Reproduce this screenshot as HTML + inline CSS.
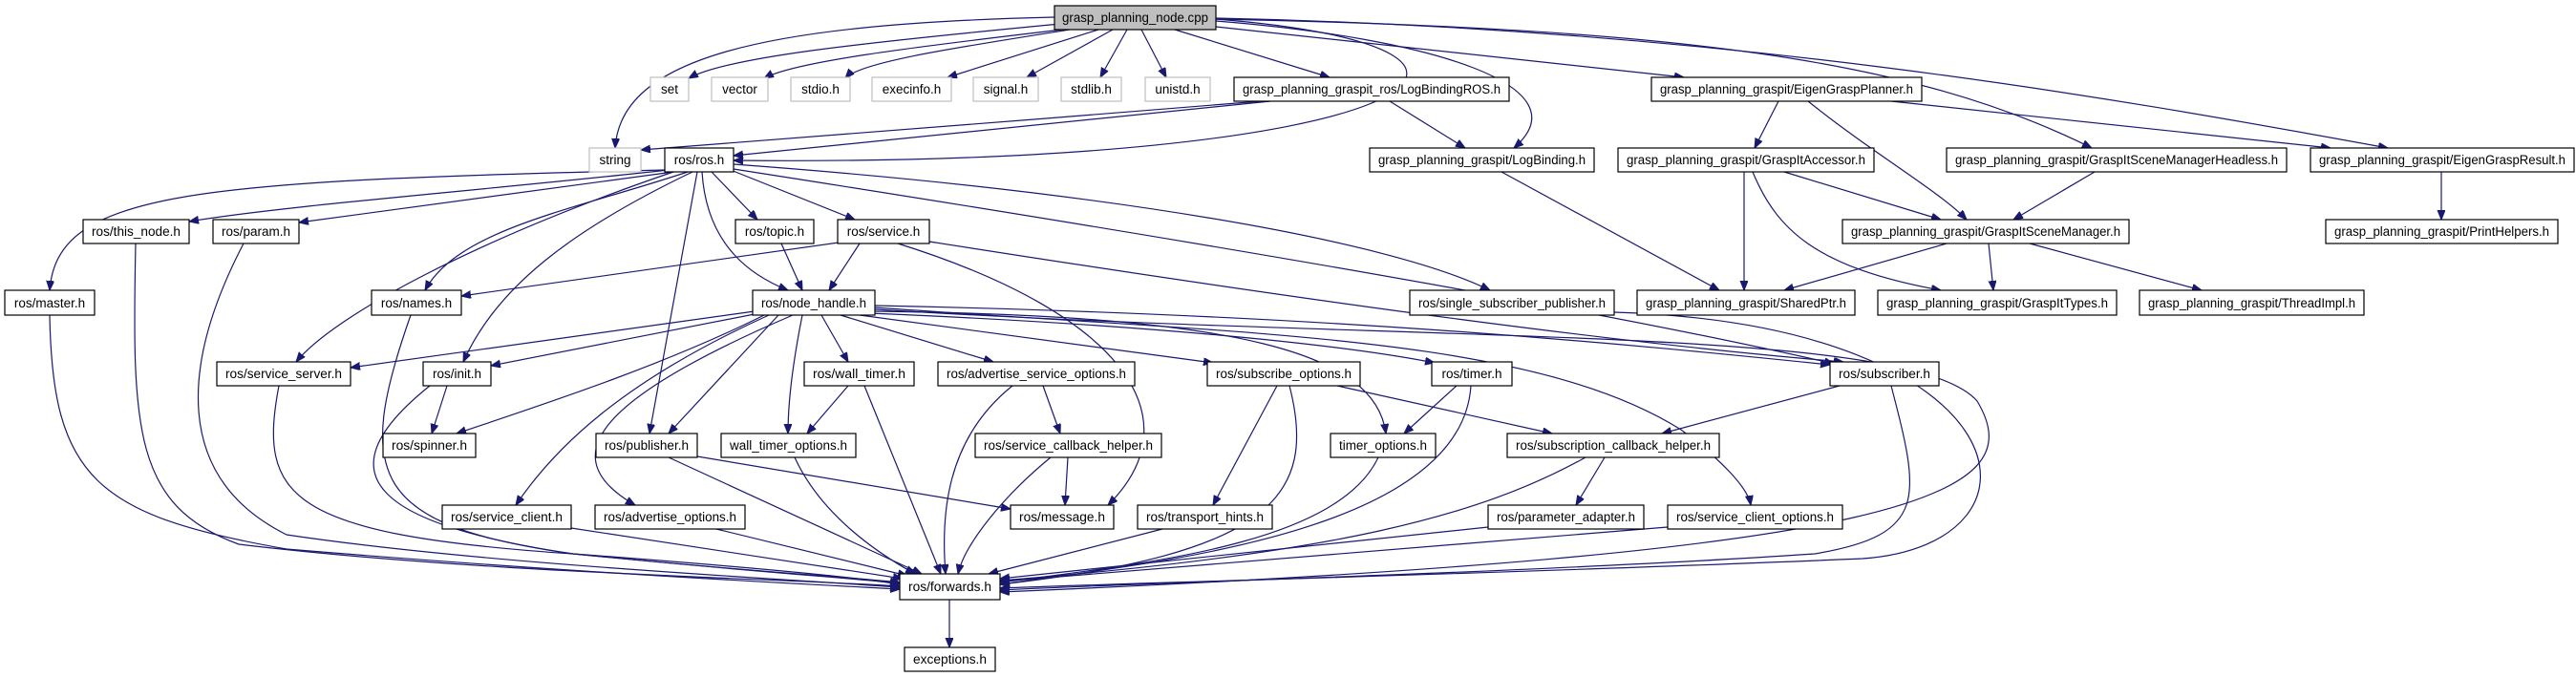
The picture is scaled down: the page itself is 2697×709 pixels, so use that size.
<!DOCTYPE html>
<html><head><meta charset="utf-8"><style>
html,body{margin:0;padding:0;background:#fff;}
svg{display:block;}
text{font-family:"Liberation Sans",sans-serif;font-size:13.5px;fill:#000;}
.e{fill:none;stroke:#191970;stroke-width:1.2;marker-end:url(#a);}
.n{fill:#fff;stroke:#000;stroke-width:1.2;}
.g{fill:#fff;stroke:#bfbfbf;stroke-width:1.2;}
</style></head><body>
<svg width="2697" height="709" viewBox="0 0 2697 709" xmlns="http://www.w3.org/2000/svg">
<defs><marker id="a" markerWidth="12" markerHeight="10" refX="10" refY="4" orient="auto" markerUnits="userSpaceOnUse"><path d="M0,0 L10,4 L0,8 z" fill="#191970" stroke="#191970"/></marker></defs>
<g>
<path class="e" d="M1110 25 C 900 45, 760 60, 721 82"/>
<path class="e" d="M1112 31 C 950 50, 830 65, 800 82"/>
<path class="e" d="M1120 31 C 1000 50, 900 65, 885 82"/>
<path class="e" d="M1150 31 L 992 81"/>
<path class="e" d="M1165 31 L 1075 81"/>
<path class="e" d="M1180 31 L 1152 81"/>
<path class="e" d="M1195 31 L 1221 81"/>
<path class="e" d="M1230 31 L 1392 81"/>
<path class="e" d="M1273 28 L 1763 81"/>
<path class="e" d="M1273 20 C 1750 30, 2000 60, 2190 155"/>
<path class="e" d="M1273 19 C 1800 30, 2200 100, 2500 155"/>
<path class="e" d="M1273 22 C 1500 40, 1660 90, 1585 155"/>
<path class="e" d="M1273 20 C 1650 50, 1500 175, 768 168"/>
<path class="e" d="M1104 18 C 800 25, 650 60, 644 155"/>
<path class="e" d="M1320 106 C 1100 125, 800 145, 671 157"/>
<path class="e" d="M1330 106 C 1100 130, 900 150, 768 163"/>
<path class="e" d="M1455 106 L 1534 155"/>
<path class="e" d="M1862 106 L 1837 155"/>
<path class="e" d="M1893 106 C 1960 160, 2030 200, 2059 230"/>
<path class="e" d="M1980 106 L 2440 155"/>
<path class="e" d="M1572 180 L 1800 304"/>
<path class="e" d="M1826 180 L 1826 304"/>
<path class="e" d="M1835 180 C 1860 240, 1900 280, 2032 304"/>
<path class="e" d="M1868 180 L 2032 230"/>
<path class="e" d="M2193 180 L 2108 230"/>
<path class="e" d="M2556 180 L 2556 230"/>
<path class="e" d="M2038 255 L 1868 304"/>
<path class="e" d="M2082 255 L 2087 304"/>
<path class="e" d="M2125 255 L 2305 304"/>
<path class="e" d="M696 178 C 200 190, 60 200, 52 304"/>
<path class="e" d="M700 178 C 500 200, 300 215, 198 232"/>
<path class="e" d="M705 180 C 560 200, 400 220, 313 233"/>
<path class="e" d="M720 180 C 600 220, 480 240, 445 304"/>
<path class="e" d="M705 180 C 500 250, 350 330, 310 379"/>
<path class="e" d="M725 180 C 600 240, 520 300, 485 379"/>
<path class="e" d="M745 180 L 793 230"/>
<path class="e" d="M765 178 L 895 230"/>
<path class="e" d="M735 180 C 740 260, 790 290, 825 304"/>
<path class="e" d="M730 180 L 680 454"/>
<path class="e" d="M768 172 C 1150 200, 1450 250, 1560 304"/>
<path class="e" d="M768 177 C 1300 260, 1700 330, 1920 381"/>
<path class="e" d="M818 255 L 840 304"/>
<path class="e" d="M900 255 L 868 304"/>
<path class="e" d="M878 254 L 483 310"/>
<path class="e" d="M940 255 C 1180 330, 1250 440, 1160 529"/>
<path class="e" d="M973 253 C 1400 320, 1700 360, 1930 379"/>
<path class="e" d="M1690 327 C 2120 340, 2160 570, 1950 585 C 1600 600, 1200 610, 1047 616"/>
<path class="e" d="M790 326 L 367 385"/>
<path class="e" d="M795 328 L 514 383"/>
<path class="e" d="M800 330 C 700 380, 580 420, 478 454"/>
<path class="e" d="M815 330 L 700 454"/>
<path class="e" d="M840 330 C 830 380, 825 420, 825 454"/>
<path class="e" d="M860 330 L 888 379"/>
<path class="e" d="M880 330 L 1040 379"/>
<path class="e" d="M900 330 L 1270 380"/>
<path class="e" d="M910 328 C 1200 340, 1400 360, 1502 380"/>
<path class="e" d="M913 326 C 1300 330, 1440 370, 1451 454"/>
<path class="e" d="M916 320 C 1400 330, 1700 360, 1916 382"/>
<path class="e" d="M805 330 C 650 400, 580 470, 540 529"/>
<path class="e" d="M830 330 C 620 420, 580 480, 665 529"/>
<path class="e" d="M916 322 C 1300 350, 1600 350, 1760 450 C 1800 480, 1830 510, 1833 529"/>
<path class="e" d="M916 324 C 1500 360, 2000 340, 2070 420 C 2130 520, 2000 580, 1047 620"/>
<path class="e" d="M888 404 L 845 454"/>
<path class="e" d="M905 404 L 985 601"/>
<path class="e" d="M1092 404 L 1110 454"/>
<path class="e" d="M1060 404 C 990 460, 985 540, 990 601"/>
<path class="e" d="M1337 404 L 1270 529"/>
<path class="e" d="M1350 404 C 1380 520, 1330 580, 1047 612"/>
<path class="e" d="M1400 404 L 1625 454"/>
<path class="e" d="M1525 404 L 1470 454"/>
<path class="e" d="M1540 404 C 1530 560, 1200 590, 1047 612"/>
<path class="e" d="M1926 404 L 1740 454"/>
<path class="e" d="M1980 404 C 2010 520, 2020 560, 1900 580 C 1600 600, 1200 610, 1047 618"/>
<path class="e" d="M468 404 L 452 454"/>
<path class="e" d="M450 404 C 330 500, 400 550, 600 580 C 800 600, 900 605, 942 610"/>
<path class="e" d="M292 404 C 270 520, 300 560, 600 580 C 800 595, 900 605, 942 612"/>
<path class="e" d="M142 255 C 138 450, 140 530, 250 570 C 500 600, 800 605, 942 614"/>
<path class="e" d="M255 255 C 190 380, 180 500, 300 560 C 500 590, 800 605, 942 615"/>
<path class="e" d="M52 330 C 55 500, 100 540, 300 575 C 600 600, 850 612, 942 617"/>
<path class="e" d="M430 330 C 370 500, 390 550, 600 580 C 800 600, 900 606, 942 611"/>
<path class="e" d="M730 478 L 1058 533"/>
<path class="e" d="M700 479 L 965 601"/>
<path class="e" d="M832 479 C 860 540, 920 580, 958 601"/>
<path class="e" d="M1118 479 L 1115 529"/>
<path class="e" d="M1100 479 C 1050 520, 1010 570, 1003 601"/>
<path class="e" d="M1443 479 C 1400 570, 1200 590, 1047 610"/>
<path class="e" d="M1680 479 L 1650 529"/>
<path class="e" d="M1660 479 C 1550 540, 1400 580, 1047 608"/>
<path class="e" d="M598 553 L 945 606"/>
<path class="e" d="M750 554 L 950 603"/>
<path class="e" d="M1217 554 L 1035 601"/>
<path class="e" d="M1558 552 L 1047 606"/>
<path class="e" d="M1746 552 L 1047 609"/>
<path class="e" d="M994 628 L 994 678"/>
</g>
<g>
<rect x="1104" y="6" width="169" height="25" fill="#bfbfbf" stroke="#000" stroke-width="1.2"/><text x="1188.5" y="23" text-anchor="middle" textLength="153" lengthAdjust="spacingAndGlyphs">grasp_planning_node.cpp</text>
<rect class="g" x="681" y="81" width="40" height="25"/><text x="701" y="98" text-anchor="middle">set</text>
<rect class="g" x="745" y="81" width="59" height="25"/><text x="774.5" y="98" text-anchor="middle">vector</text>
<rect class="g" x="828" y="81" width="62" height="25"/><text x="859" y="98" text-anchor="middle">stdio.h</text>
<rect class="g" x="913" y="81" width="83" height="25"/><text x="954.5" y="98" text-anchor="middle">execinfo.h</text>
<rect class="g" x="1019" y="81" width="68" height="25"/><text x="1053" y="98" text-anchor="middle">signal.h</text>
<rect class="g" x="1111" y="81" width="63" height="25"/><text x="1142.5" y="98" text-anchor="middle">stdlib.h</text>
<rect class="g" x="1199" y="81" width="68" height="25"/><text x="1233" y="98" text-anchor="middle">unistd.h</text>
<rect class="n" x="1292" y="81" width="288" height="25"/><text x="1436" y="98" text-anchor="middle" textLength="270" lengthAdjust="spacingAndGlyphs">grasp_planning_graspit_ros/LogBindingROS.h</text>
<rect class="n" x="1729" y="81" width="283" height="25"/><text x="1870.5" y="98" text-anchor="middle" textLength="265" lengthAdjust="spacingAndGlyphs">grasp_planning_graspit/EigenGraspPlanner.h</text>
<rect class="g" x="617" y="155" width="54" height="25"/><text x="644" y="172" text-anchor="middle">string</text>
<rect class="n" x="696" y="155" width="72" height="25"/><text x="732" y="172" text-anchor="middle">ros/ros.h</text>
<rect class="n" x="1434" y="155" width="235" height="25"/><text x="1551.5" y="172" text-anchor="middle" textLength="217" lengthAdjust="spacingAndGlyphs">grasp_planning_graspit/LogBinding.h</text>
<rect class="n" x="1694" y="155" width="268" height="25"/><text x="1828" y="172" text-anchor="middle" textLength="250" lengthAdjust="spacingAndGlyphs">grasp_planning_graspit/GraspItAccessor.h</text>
<rect class="n" x="2038" y="155" width="356" height="25"/><text x="2216" y="172" text-anchor="middle" textLength="338" lengthAdjust="spacingAndGlyphs">grasp_planning_graspit/GraspItSceneManagerHeadless.h</text>
<rect class="n" x="2419" y="155" width="276" height="25"/><text x="2557" y="172" text-anchor="middle" textLength="258" lengthAdjust="spacingAndGlyphs">grasp_planning_graspit/EigenGraspResult.h</text>
<rect class="n" x="87" y="230" width="111" height="25"/><text x="142.5" y="247" text-anchor="middle" textLength="93" lengthAdjust="spacingAndGlyphs">ros/this_node.h</text>
<rect class="n" x="223" y="230" width="90" height="25"/><text x="268" y="247" text-anchor="middle">ros/param.h</text>
<rect class="n" x="770" y="230" width="82" height="25"/><text x="811" y="247" text-anchor="middle">ros/topic.h</text>
<rect class="n" x="877" y="230" width="96" height="25"/><text x="925" y="247" text-anchor="middle">ros/service.h</text>
<rect class="n" x="1929" y="230" width="300" height="25"/><text x="2079" y="247" text-anchor="middle" textLength="282" lengthAdjust="spacingAndGlyphs">grasp_planning_graspit/GraspItSceneManager.h</text>
<rect class="n" x="2435" y="230" width="243" height="25"/><text x="2556.5" y="247" text-anchor="middle" textLength="225" lengthAdjust="spacingAndGlyphs">grasp_planning_graspit/PrintHelpers.h</text>
<rect class="n" x="5" y="304" width="94" height="26"/><text x="52" y="322" text-anchor="middle">ros/master.h</text>
<rect class="n" x="389" y="304" width="94" height="26"/><text x="436" y="322" text-anchor="middle">ros/names.h</text>
<rect class="n" x="788" y="304" width="128" height="26"/><text x="852" y="322" text-anchor="middle" textLength="110" lengthAdjust="spacingAndGlyphs">ros/node_handle.h</text>
<rect class="n" x="1476" y="304" width="214" height="26"/><text x="1583" y="322" text-anchor="middle" textLength="196" lengthAdjust="spacingAndGlyphs">ros/single_subscriber_publisher.h</text>
<rect class="n" x="1714" y="304" width="228" height="26"/><text x="1828" y="322" text-anchor="middle" textLength="210" lengthAdjust="spacingAndGlyphs">grasp_planning_graspit/SharedPtr.h</text>
<rect class="n" x="1966" y="304" width="250" height="26"/><text x="2091" y="322" text-anchor="middle" textLength="232" lengthAdjust="spacingAndGlyphs">grasp_planning_graspit/GraspItTypes.h</text>
<rect class="n" x="2240" y="304" width="235" height="26"/><text x="2357.5" y="322" text-anchor="middle" textLength="217" lengthAdjust="spacingAndGlyphs">grasp_planning_graspit/ThreadImpl.h</text>
<rect class="n" x="227" y="379" width="140" height="25"/><text x="297" y="396" text-anchor="middle" textLength="122" lengthAdjust="spacingAndGlyphs">ros/service_server.h</text>
<rect class="n" x="443" y="379" width="71" height="25"/><text x="478.5" y="396" text-anchor="middle">ros/init.h</text>
<rect class="n" x="842" y="379" width="115" height="25"/><text x="899.5" y="396" text-anchor="middle" textLength="97" lengthAdjust="spacingAndGlyphs">ros/wall_timer.h</text>
<rect class="n" x="982" y="379" width="206" height="25"/><text x="1085" y="396" text-anchor="middle" textLength="188" lengthAdjust="spacingAndGlyphs">ros/advertise_service_options.h</text>
<rect class="n" x="1264" y="379" width="160" height="25"/><text x="1344" y="396" text-anchor="middle" textLength="142" lengthAdjust="spacingAndGlyphs">ros/subscribe_options.h</text>
<rect class="n" x="1499" y="379" width="84" height="25"/><text x="1541" y="396" text-anchor="middle">ros/timer.h</text>
<rect class="n" x="1916" y="379" width="114" height="25"/><text x="1973" y="396" text-anchor="middle" textLength="96" lengthAdjust="spacingAndGlyphs">ros/subscriber.h</text>
<rect class="n" x="401" y="454" width="97" height="25"/><text x="449.5" y="471" text-anchor="middle" textLength="79" lengthAdjust="spacingAndGlyphs">ros/spinner.h</text>
<rect class="n" x="624" y="454" width="106" height="25"/><text x="677" y="471" text-anchor="middle" textLength="88" lengthAdjust="spacingAndGlyphs">ros/publisher.h</text>
<rect class="n" x="755" y="454" width="141" height="25"/><text x="825.5" y="471" text-anchor="middle" textLength="123" lengthAdjust="spacingAndGlyphs">wall_timer_options.h</text>
<rect class="n" x="1021" y="454" width="195" height="25"/><text x="1118.5" y="471" text-anchor="middle" textLength="177" lengthAdjust="spacingAndGlyphs">ros/service_callback_helper.h</text>
<rect class="n" x="1393" y="454" width="110" height="25"/><text x="1448" y="471" text-anchor="middle" textLength="92" lengthAdjust="spacingAndGlyphs">timer_options.h</text>
<rect class="n" x="1578" y="454" width="222" height="25"/><text x="1689" y="471" text-anchor="middle" textLength="204" lengthAdjust="spacingAndGlyphs">ros/subscription_callback_helper.h</text>
<rect class="n" x="463" y="529" width="135" height="25"/><text x="530.5" y="546" text-anchor="middle" textLength="117" lengthAdjust="spacingAndGlyphs">ros/service_client.h</text>
<rect class="n" x="623" y="529" width="157" height="25"/><text x="701.5" y="546" text-anchor="middle" textLength="139" lengthAdjust="spacingAndGlyphs">ros/advertise_options.h</text>
<rect class="n" x="1058" y="529" width="108" height="25"/><text x="1112" y="546" text-anchor="middle" textLength="90" lengthAdjust="spacingAndGlyphs">ros/message.h</text>
<rect class="n" x="1191" y="529" width="141" height="25"/><text x="1261.5" y="546" text-anchor="middle" textLength="123" lengthAdjust="spacingAndGlyphs">ros/transport_hints.h</text>
<rect class="n" x="1558" y="529" width="163" height="25"/><text x="1639.5" y="546" text-anchor="middle" textLength="145" lengthAdjust="spacingAndGlyphs">ros/parameter_adapter.h</text>
<rect class="n" x="1746" y="529" width="183" height="25"/><text x="1837.5" y="546" text-anchor="middle" textLength="165" lengthAdjust="spacingAndGlyphs">ros/service_client_options.h</text>
<rect class="n" x="942" y="601" width="105" height="27"/><text x="994.5" y="619" text-anchor="middle" textLength="87" lengthAdjust="spacingAndGlyphs">ros/forwards.h</text>
<rect class="n" x="947" y="678" width="95" height="25"/><text x="994.5" y="695" text-anchor="middle" textLength="77" lengthAdjust="spacingAndGlyphs">exceptions.h</text>
</g>
</svg>
</body></html>
